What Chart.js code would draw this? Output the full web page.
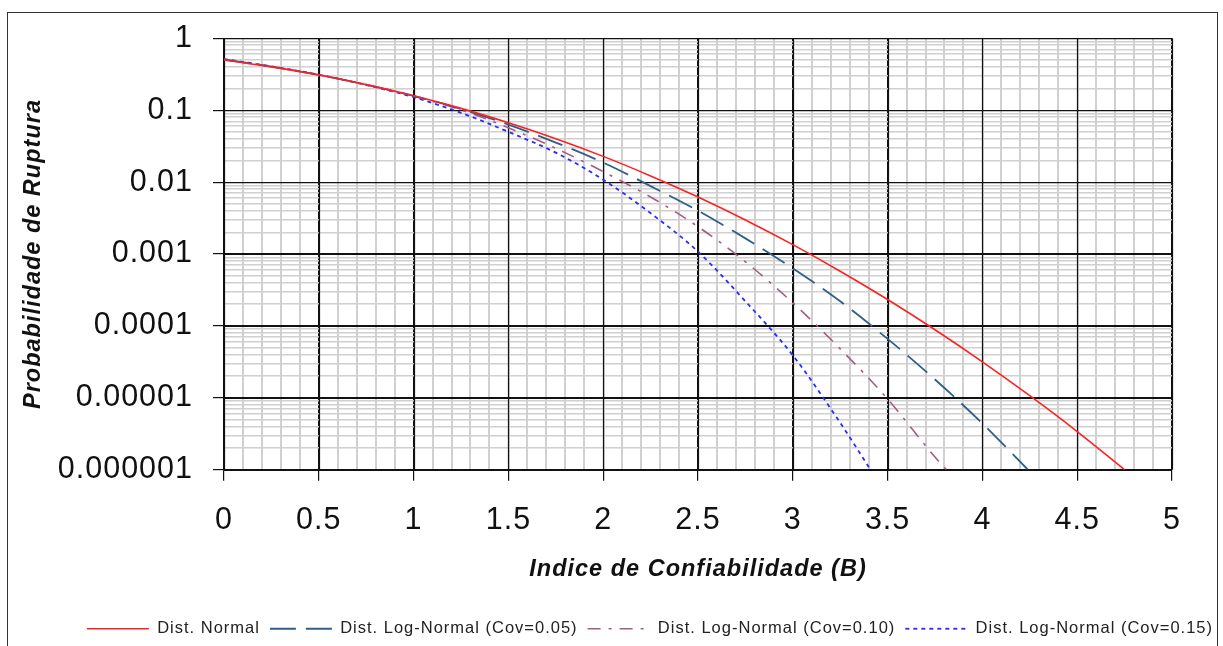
<!DOCTYPE html>
<html>
<head>
<meta charset="utf-8">
<script src="https://cdn.jsdelivr.net/npm/chart.js@4/dist/chart.umd.min.js"></script>
<style>
  html, body { margin: 0; padding: 0; background: #fff; overflow: hidden; }
  #wrap { position: relative; width: 1223px; height: 647px; }
  #frame { position: absolute; left: 7px; top: 12px; width: 1209px; height: 700px;
           border: 1.5px solid #333; pointer-events: none; }
</style>
</head>
<body>
<div id="wrap">
  <canvas id="grafico"></canvas>
  <div id="frame"></div>
</div>
<script>
// Datos (Probabilidad de ruptura vs índice de confiabilidad)
const betaNormal = [0, 0.25, 0.5, 0.75, 1, 1.25, 1.5, 1.75, 2, 2.25, 2.5, 2.75, 3, 3.25, 3.5, 3.75, 4, 4.25, 4.5, 4.75];
const pfNormal = [0.5, 0.401, 0.309, 0.227, 0.159, 0.106, 0.0668, 0.0401, 0.0228, 0.0122, 0.00621, 0.00298,
                  0.00135, 0.000577, 0.000233, 0.0000884, 0.0000317, 0.0000107, 0.0000034, 0.000001];

const betaCov05 = [0, 0.25, 0.5, 0.75, 1, 1.25, 1.5, 1.75, 2, 2.25, 2.5, 2.75, 3, 3.25, 3.5, 3.75, 4, 4.24];
const pfCov05 = [0.505, 0.403, 0.310, 0.227, 0.158, 0.104, 0.063, 0.0355, 0.0187, 0.0088, 0.0040, 0.00165,
                 0.00063, 0.00022, 0.000066, 0.000018, 0.0000044, 0.000001];

const betaCov10 = [0, 0.25, 0.5, 0.75, 1, 1.25, 1.5, 1.75, 2, 2.25, 2.5, 2.75, 3, 3.25, 3.5, 3.75, 3.81];
const pfCov10 = [0.51, 0.405, 0.311, 0.226, 0.157, 0.101, 0.057, 0.0295, 0.014, 0.0062, 0.0024, 0.00078,
                 0.00021, 0.000048, 0.0000096, 0.0000015, 0.000001];

const betaCov15 = [0, 0.25, 0.5, 0.75, 1, 1.25, 1.5, 1.75, 2, 2.25, 2.5, 2.75, 3, 3.25, 3.41];
const pfCov15 = [0.515, 0.407, 0.312, 0.224, 0.152, 0.092, 0.050, 0.0257, 0.0108, 0.0037, 0.00108, 0.00022,
                 0.000039, 0.0000045, 0.000001];

const seriesLabels = ['Dist. Normal', 'Dist. Log-Normal (Cov=0.05)', 'Dist. Log-Normal (Cov=0.10)', 'Dist. Log-Normal (Cov=0.15)'];

const xTickLabels = ['0', '0.5', '1', '1.5', '2', '2.5', '3', '3.5', '4', '4.5', '5'];
const yTickValues = [1, 0.1, 0.01, 0.001, 0.0001, 0.00001, 0.000001];
const yTickLabels = ['1', '0.1', '0.01', '0.001', '0.0001', '0.00001', '0.000001'];

const FONT = '"Liberation Sans", Arial, sans-serif';
const NEGRO = '#111111';
const GRIS = '#d0d0d0';

function esMayorX(v) {
    const k = v * 2;
    return Math.abs(k - Math.round(k)) < 1e-6;
}
function esMayorY(v) {
    const l = Math.log10(v);
    return Math.abs(l - Math.round(l)) < 1e-6;
}
function puntos(xs, ys) {
    return xs.map((x, i) => ({ x: x, y: ys[i] }));
}

// Espaciado de letras parecido al original
const espaciado = {
    id: 'espaciado',
    beforeLayout(chart) { chart.ctx.letterSpacing = '1px'; },
    beforeDraw(chart) { chart.ctx.letterSpacing = '1px'; }
};

// Volver a pintar las líneas principales de la rejilla encima de las secundarias
const rejillaMayor = {
    id: 'rejillaMayor',
    beforeDatasetsDraw(chart) {
        const { ctx, chartArea: a, scales: { x, y } } = chart;
        ctx.save();
        ctx.strokeStyle = NEGRO;
        ctx.lineWidth = 1.2;
        ctx.beginPath();
        x.ticks.forEach(t => {
            if (esMayorX(t.value)) {
                const px = Math.round(x.getPixelForValue(t.value)) + 0.5;
                ctx.moveTo(px, a.top);
                ctx.lineTo(px, a.bottom);
            }
        });
        y.ticks.forEach(t => {
            if (esMayorY(t.value)) {
                const py = Math.round(y.getPixelForValue(t.value)) + 0.5;
                ctx.moveTo(a.left, py);
                ctx.lineTo(a.right, py);
            }
        });
        ctx.stroke();
        ctx.restore();
    }
};

const datasets = [
    { label: seriesLabels[0], data: puntos(betaNormal, pfNormal), borderColor: '#ff2020', borderWidth: 1.6, borderDash: [] },
    { label: seriesLabels[1], data: puntos(betaCov05, pfCov05), borderColor: '#2f5f8a', borderWidth: 1.8, borderDash: [26, 10] },
    { label: seriesLabels[2], data: puntos(betaCov10, pfCov10), borderColor: '#a85a86', borderWidth: 1.6, borderDash: [13, 8, 3, 8] },
    { label: seriesLabels[3], data: puntos(betaCov15, pfCov15), borderColor: '#2a2aff', borderWidth: 1.8, borderDash: [4, 4] }
].map(d => Object.assign(d, {
    backgroundColor: d.borderColor,
    pointRadius: 0,
    fill: false,
    cubicInterpolationMode: 'monotone'
}));

new Chart(document.getElementById('grafico'), {
    type: 'line',
    data: { datasets: datasets },
    plugins: [espaciado, rejillaMayor],
    options: {
        responsive: true,
        maintainAspectRatio: false,
        animation: false,
        layout: { padding: { top: 36, left: 0, right: 0, bottom: 0 } },
        plugins: {
            legend: {
                position: 'bottom',
                align: 'end',
                labels: {
                    color: '#222',
                    font: { family: FONT, size: 16.5 },
                    usePointStyle: true,
                    pointStyle: 'line',
                    pointStyleWidth: 62,
                    padding: 10,
                    // muestra de línea con el mismo trazo discontinuo de cada serie
                    generateLabels: chart => Chart.defaults.plugins.legend.labels.generateLabels(chart).map(it => {
                        const ds = chart.data.datasets[it.datasetIndex];
                        it.pointStyle = 'line';
                        it.strokeStyle = ds.borderColor;
                        it.lineWidth = ds.borderWidth;
                        it.lineDash = ds.borderDash;
                        it.lineDashOffset = 0;
                        return it;
                    })
                }
            },
            tooltip: { enabled: false }
        },
        scales: {
            x: {
                type: 'linear',
                min: 0,
                max: 5,
                afterFit: s => { s.height = 140.75; },
                afterBuildTicks: s => {
                    const t = [];
                    for (let i = 0; i <= 50; i++) t.push({ value: i / 10 });
                    s.ticks = t;
                },
                ticks: {
                    autoSkip: false,
                    maxRotation: 0,
                    padding: 22,
                    color: '#111',
                    font: { family: FONT, size: 30.5 },
                    callback: v => esMayorX(v) ? xTickLabels[Math.round(v * 2)] : ''
                },
                grid: {
                    color: c => esMayorX(c.tick.value) ? NEGRO : GRIS,
                    lineWidth: c => esMayorX(c.tick.value) ? 1.2 : 2,
                    tickColor: c => esMayorX(c.tick.value) ? NEGRO : 'rgba(0,0,0,0)',
                    tickLength: 11,
                    tickWidth: 1.2
                },
                border: { color: NEGRO, width: 1.2 },
                title: {
                    display: true,
                    text: 'Indice de Confiabilidade (B)',
                    color: '#111',
                    font: { family: FONT, size: 23.5, weight: 'bold', style: 'italic' },
                    padding: { top: 0, bottom: 27 }
                }
            },
            y: {
                type: 'logarithmic',
                min: 0.000001,
                max: 1,
                afterFit: s => { s.width = 224; },
                afterBuildTicks: s => {
                    const t = [];
                    for (let e = -6; e < 0; e++) {
                        for (let m = 1; m <= 9; m++) t.push({ value: m * Math.pow(10, e) });
                    }
                    t.push({ value: 1 });
                    s.ticks = t;
                },
                ticks: {
                    autoSkip: false,
                    padding: 20,
                    color: '#111',
                    font: { family: FONT, size: 30.5 },
                    callback: v => {
                        const i = yTickValues.findIndex(m => Math.abs(v / m - 1) < 1e-6);
                        return i >= 0 ? yTickLabels[i] : '';
                    }
                },
                grid: {
                    color: c => esMayorY(c.tick.value) ? NEGRO : GRIS,
                    lineWidth: c => esMayorY(c.tick.value) ? 1.2 : 1.6,
                    tickColor: c => esMayorY(c.tick.value) ? NEGRO : 'rgba(0,0,0,0)',
                    tickLength: 11,
                    tickWidth: 1.2
                },
                border: { color: NEGRO, width: 1.2 },
                title: {
                    display: true,
                    text: 'Probabilidade de Ruptura',
                    color: '#111',
                    font: { family: FONT, size: 23.5, weight: 'bold', style: 'italic' },
                    padding: { top: 19, bottom: 0 }
                }
            },
            // eje vacío a la derecha para dejar el margen del área de trazado
            derecha: {
                type: 'linear',
                position: 'right',
                display: true,
                afterFit: s => { s.width = 51; },
                grid: { display: false, drawTicks: false },
                border: { display: false },
                ticks: { display: false }
            }
        }
    }
});
</script>
</body>
</html>
